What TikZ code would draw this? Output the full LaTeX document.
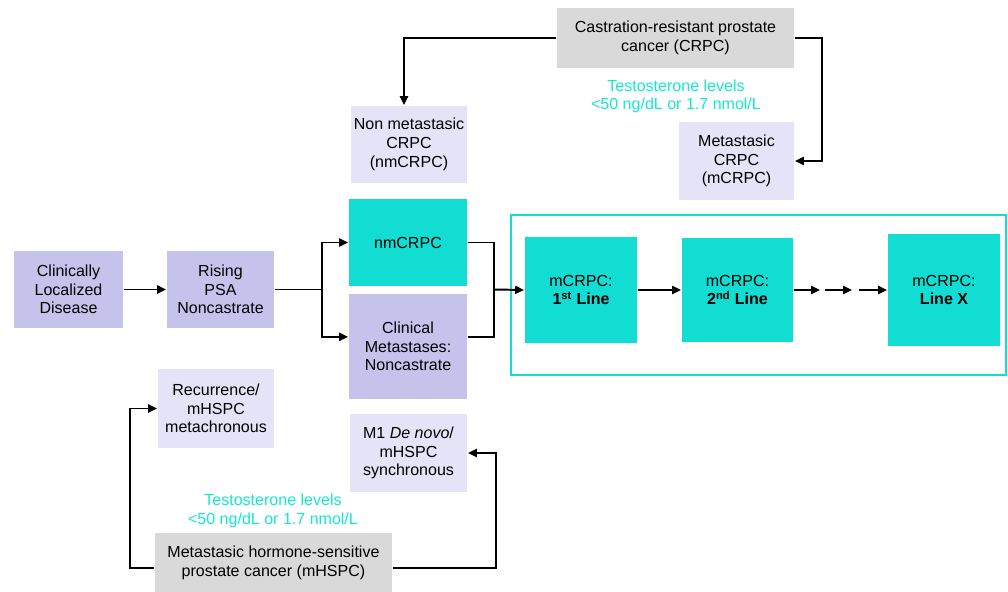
\documentclass[tikz,border=0pt]{standalone}
\usepackage{fontspec}
\setmainfont{Liberation Sans}
\usepackage{xcolor}
\usetikzlibrary{arrows.meta}

\definecolor{lavender}{HTML}{C5C3EC}
\definecolor{palelav}{HTML}{E4E3F7}
\definecolor{tealbox}{HTML}{12DDD3}
\definecolor{greybox}{HTML}{D9D9D9}
\definecolor{tealtext}{HTML}{14E8CF}

\tikzset{
  box/.style={inner sep=0pt,align=center,text=black,
    font=\fontsize{11.4pt}{13.3pt}\selectfont},
  arr/.style={-{Triangle[length=0.22cm,width=0.2cm]}},
}

\begin{document}
\begin{tikzpicture}[x=0.025cm,y=-0.025cm,line width=1.4pt]
  \useasboundingbox (0,0) rectangle (1008,592);
  % Main row
  \node[box,fill=lavender,minimum width=2.725cm,minimum height=1.925cm] (clin) at (68.5,289.5) {Clinically\\Localized\\Disease};
  \node[box,fill=lavender,minimum width=2.675cm,minimum height=1.925cm] (rising) at (220.5,289.5) {Rising\\PSA\\Noncastrate};
  \node[box,fill=tealbox,minimum width=2.95cm,minimum height=2.175cm] (nmcrpc) at (408,242.5) {nmCRPC};
  \node[box,fill=lavender,minimum width=2.95cm,minimum height=2.625cm] (clinmet) at (408,346.5) {Clinical\\Metastases:\\Noncastrate};
  % mCRPC lines
  \draw[tealbox,line width=1.6pt] (511,215) rectangle (1006,375);
  \node[box,fill=tealbox,minimum width=2.8cm,minimum height=2.65cm] (first) at (581,290) {mCRPC:\\\textbf{1\textsuperscript{st} Line}};
  \node[box,fill=tealbox,minimum width=2.775cm,minimum height=2.6cm] (second) at (737.5,290) {mCRPC:\\\textbf{2\textsuperscript{nd} Line}};
  \node[box,fill=tealbox,minimum width=2.8cm,minimum height=2.8cm] (linex) at (944,290) {mCRPC:\\\textbf{Line X}};
  % Castration-resistant branch (top)
  \node[box,fill=greybox,minimum width=5.925cm,minimum height=1.5cm] (crpc) at (675.5,38) {Castration-resistant prostate\\cancer (CRPC)};
  \node[box,fill=palelav,minimum width=2.9cm,minimum height=1.925cm] (nonmet) at (409,144.5) {Non metastasic\\CRPC\\(nmCRPC)};
  \node[box,fill=palelav,minimum width=2.875cm,minimum height=1.95cm] (met) at (736.5,161) {Metastasic\\CRPC\\(mCRPC)};
  \node[box,text=tealtext] (testtop) at (676,96.5) {Testosterone levels\\<50 ng/dL or 1.7 nmol/L};
  % Hormone-sensitive branch (bottom)
  \node[box,fill=palelav,minimum width=2.9cm,minimum height=1.975cm] (recur) at (216,408.5) {Recurrence/\\mHSPC\\metachronous};
  \node[box,fill=palelav,minimum width=2.925cm,minimum height=1.95cm] (mone) at (408.5,453) {M1 \textit{De novo}/\\mHSPC\\synchronous};
  \node[box,fill=greybox,minimum width=5.925cm,minimum height=1.475cm] (mhspc) at (273.5,562.5) {Metastasic hormone-sensitive\\prostate cancer (mHSPC)};
  \node[box,text=tealtext] (testbot) at (273,510.5) {Testosterone levels\\<50 ng/dL or 1.7 nmol/L};
  % Connectors
  \coordinate (split) at (322,289.5);
  \coordinate (join) at (494,289.5);
  \draw[arr] (clin.east) -- (rising.west);
  \draw (rising.east) -- (split);
  \draw[arr] (split) |- (nmcrpc.west);
  \draw[arr] (split) |- ([yshift=0.24cm]clinmet.west);
  \draw (nmcrpc.east) -| (join);
  \draw ([yshift=0.24cm]clinmet.east) -| (join);
  \draw[arr] (join) -- (first.west);
  \draw[arr] (first.east) -- (second.west);
  \draw[arr] (second.east) -- (820,290);
  \draw[arr] (825,290) -- (852,290);
  \draw[arr] (859,290) -- (linex.west);
  \draw[arr] (crpc.west) -| ([xshift=-0.125cm]nonmet.north);
  \draw[arr] (crpc.east) -- ++(27,0) |- (met.east);
  \draw[arr] ([yshift=-0.14cm]mhspc.west) -- ++(-24,0) |- (recur.west);
  \draw[arr] ([yshift=-0.14cm]mhspc.east) -- ++(103,0) |- (mone.east);
\end{tikzpicture}
\end{document}
